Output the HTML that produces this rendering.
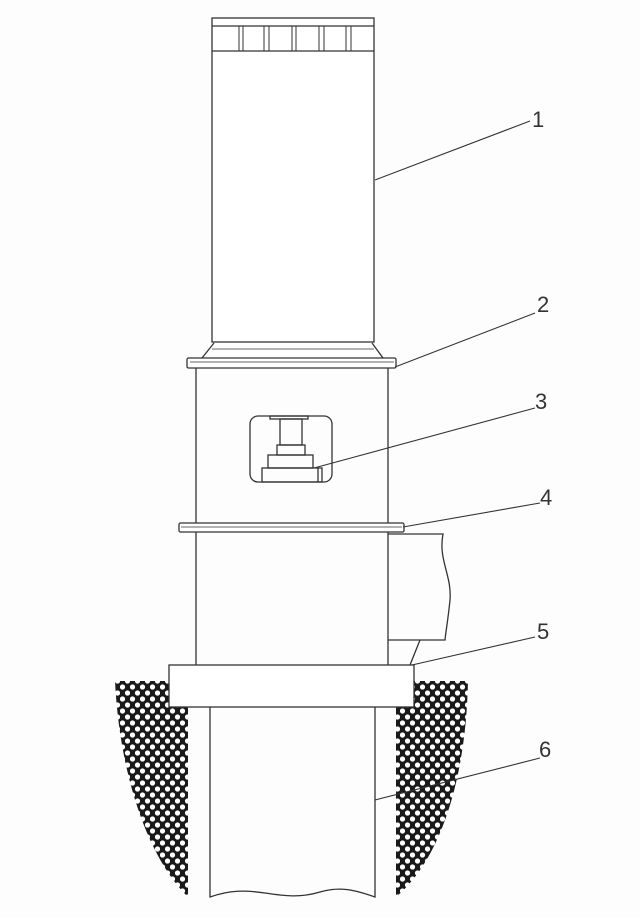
<!DOCTYPE html>
<html><head><style>html,body{margin:0;padding:0;background:#fff}svg{display:block}</style></head>
<body>
<svg width="640" height="917" viewBox="0 0 640 917" xmlns="http://www.w3.org/2000/svg">
<defs>
<pattern id="h" width="10" height="12" patternUnits="userSpaceOnUse">
<rect width="10" height="12" fill="#1a1a1a"/>
<circle cx="2.5" cy="3" r="2.6" fill="#fff"/>
<circle cx="7.5" cy="9" r="2.6" fill="#fff"/>
</pattern>
</defs>
<rect width="640" height="917" fill="#fdfdfd"/>
<g fill="none" stroke="#333" stroke-width="1.3">
<!-- motor -->
<rect x="212" y="18" width="162" height="324" fill="#fff"/>
<line x1="212" y1="26" x2="374" y2="26"/>
<line x1="212" y1="51" x2="374" y2="51"/>
<g stroke-width="1">
<line x1="239" y1="26" x2="239" y2="51"/><line x1="243" y1="26" x2="243" y2="51"/>
<line x1="264" y1="26" x2="264" y2="51"/><line x1="269" y1="26" x2="269" y2="51"/>
<line x1="292" y1="26" x2="292" y2="51"/><line x1="296" y1="26" x2="296" y2="51"/>
<line x1="319" y1="26" x2="319" y2="51"/><line x1="324" y1="26" x2="324" y2="51"/>
<line x1="346" y1="26" x2="346" y2="51"/><line x1="351" y1="26" x2="351" y2="51"/>
</g>
<!-- cone -->
<path d="M214 343 L202 358 M372 343 L383 358"/>
<line x1="212" y1="349" x2="374" y2="349" stroke-width="0.8"/>
<!-- flange 2 -->
<rect x="187" y="358" width="209" height="10" rx="1.5" fill="#fff"/>
<line x1="190" y1="362" x2="394" y2="362" stroke-width="0.7"/>
<!-- body -->
<line x1="196" y1="368" x2="196" y2="523"/>
<line x1="388" y1="368" x2="388" y2="523"/>
<!-- window -->
<rect x="250" y="416" width="82" height="66" rx="8"/>
<rect x="270" y="416" width="38" height="3"/>
<rect x="280" y="419" width="22" height="26"/>
<rect x="277" y="445" width="28" height="10"/>
<rect x="268" y="455" width="45" height="13"/>
<rect x="262" y="468" width="60" height="14"/>
<line x1="318" y1="468" x2="318" y2="482"/>
<!-- flange 4 -->
<rect x="179" y="523" width="225" height="9" rx="1.5" fill="#fff"/>
<line x1="181" y1="527" x2="402" y2="527" stroke-width="0.7"/>
<!-- lower body -->
<line x1="196" y1="532" x2="196" y2="665"/>
<line x1="388" y1="532" x2="388" y2="665"/>
<!-- side box -->
<path d="M388 534 L443 534 C438 560 452 575 450 600 C448 620 446 630 445 640 L388 640"/>
<path d="M420 640 L410 665"/>
<!-- hatch -->
<path d="M115 681 L170 681 L170 707 L188 707 L188 897 C150 860 120 780 115 681 Z" fill="url(#h)" stroke="none"/>
<path d="M414 681 L468 681 C466 780 440 860 396 897 L396 707 L414 707 Z" fill="url(#h)" stroke="none"/>
<!-- base plate -->
<rect x="169" y="665" width="245" height="42" fill="#fff"/>
<!-- pipe -->
<path d="M210 707 L210 897 C230 890 245 890 265 893 C285 896 300 898 320 892 C340 886 355 890 375 897 L375 707"/>
<!-- leaders -->
<g stroke-width="1.1">
<line x1="375" y1="180" x2="530" y2="121"/>
<line x1="395" y1="367" x2="535" y2="313"/>
<line x1="314" y1="468" x2="535" y2="408"/>
<line x1="403" y1="527" x2="540" y2="503"/>
<line x1="412" y1="665" x2="535" y2="637"/>
<line x1="375" y1="800" x2="540" y2="758"/>
</g>
</g>
<g font-family="Liberation Sans, sans-serif" font-size="22" fill="#333">
<text x="532" y="127">1</text>
<text x="537" y="312">2</text>
<text x="535" y="409">3</text>
<text x="540" y="505">4</text>
<text x="537" y="639">5</text>
<text x="539" y="757">6</text>
</g>
</svg>
</body></html>
